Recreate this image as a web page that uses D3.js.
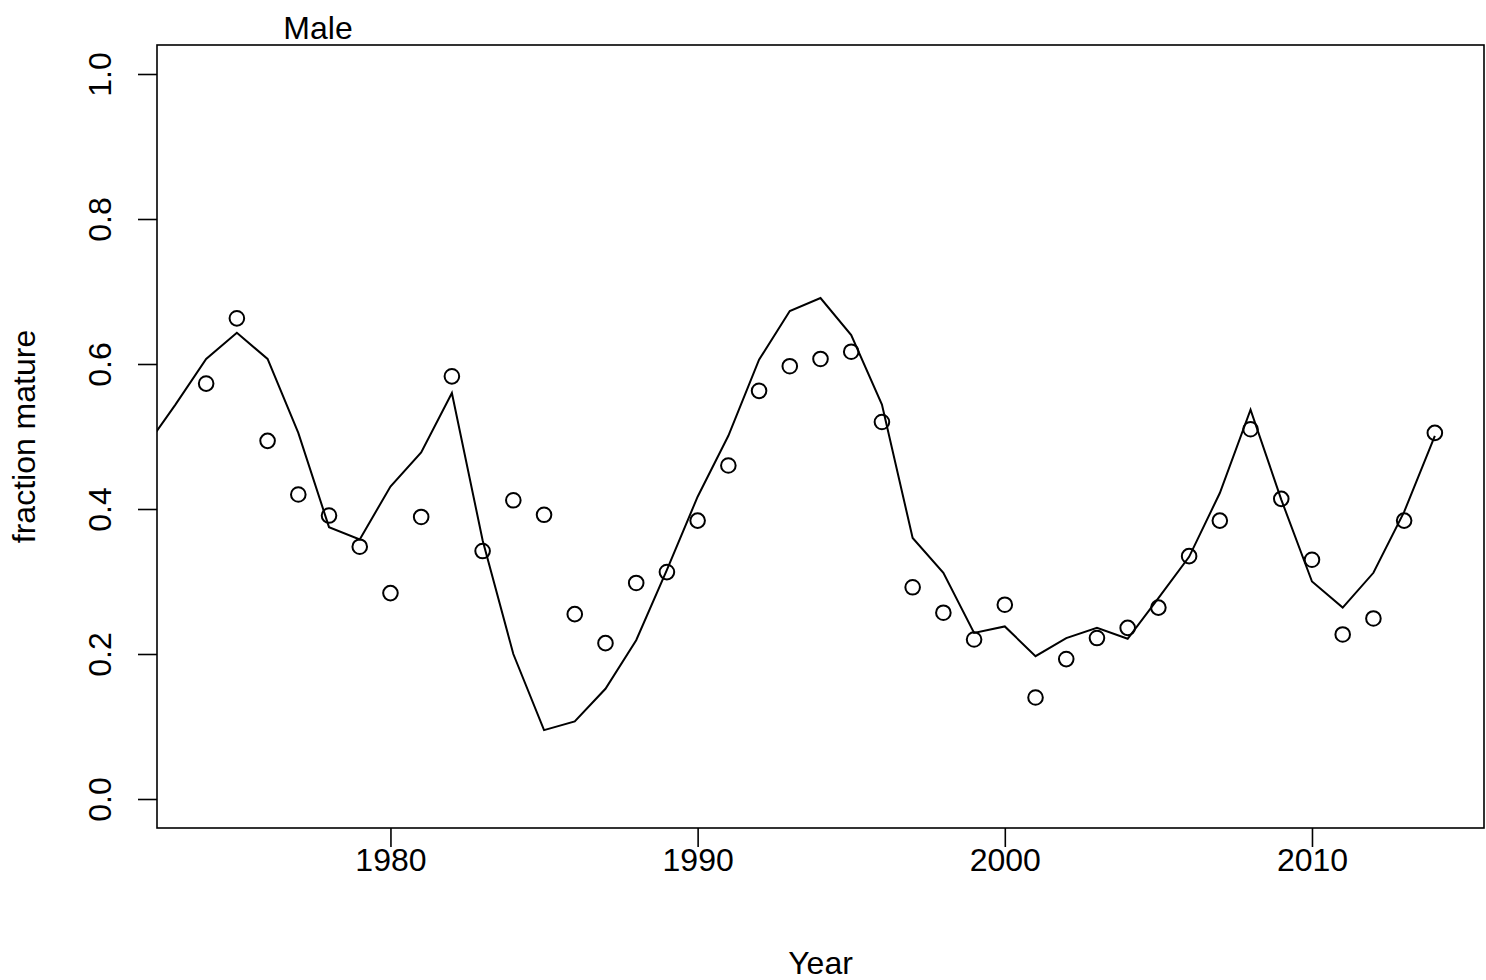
<!DOCTYPE html>
<html>
<head>
<meta charset="utf-8">
<script src="https://cdn.jsdelivr.net/npm/d3@7"></script>
<style>
  html, body { margin: 0; padding: 0; background: #fff; }
  svg text { font-family: "Liberation Sans", Arial, Helvetica, sans-serif; fill: #000; }
</style>
</head>
<body>
<svg id="chart" width="1486" height="980"></svg>
<script>
// Observed fraction mature (points)
const pointYears = [1974,1975,1976,1977,1978,1979,1980,1981,1982,1983,1984,1985,1986,1987,1988,1989,1990,1991,1992,1993,1994,1995,1996,1997,1998,1999,2000,2001,2002,2003,2004,2005,2006,2007,2008,2009,2010,2011,2012,2013,2014];
const pointValues = [0.573,0.663,0.494,0.420,0.391,0.348,0.284,0.389,0.583,0.342,0.412,0.392,0.255,0.215,0.298,0.313,0.384,0.460,0.563,0.597,0.607,0.617,0.520,0.292,0.257,0.220,0.268,0.140,0.193,0.222,0.236,0.264,0.335,0.384,0.510,0.414,0.330,0.227,0.249,0.384,0.505];
// Fitted fraction mature (line)
const lineYears = [1972,1973,1974,1975,1976,1977,1978,1979,1980,1981,1982,1983,1984,1985,1986,1987,1988,1989,1990,1991,1992,1993,1994,1995,1996,1997,1998,1999,2000,2001,2002,2003,2004,2005,2006,2007,2008,2009,2010,2011,2012,2013,2014];
const lineValues = [0.484,0.544,0.607,0.643,0.607,0.505,0.375,0.358,0.431,0.478,0.560,0.357,0.200,0.095,0.107,0.152,0.219,0.316,0.417,0.501,0.606,0.673,0.691,0.640,0.544,0.360,0.312,0.229,0.238,0.197,0.222,0.236,0.221,0.277,0.334,0.422,0.537,0.413,0.300,0.264,0.312,0.396,0.501];
const xTicks = [1980,1990,2000,2010];
const yTicks = [0.0,0.2,0.4,0.6,0.8,1.0];
const yTickLabels = ["0.0","0.2","0.4","0.6","0.8","1.0"];
const panelTitle = "Male";
const xLabel = "Year";
const yLabel = "fraction mature";

const svg = d3.select("#chart");
const box = {left: 157, right: 1484, top: 45, bottom: 828};

// R-style 4% axis extension
const xr = [1974, 2014], yr = [0, 1];
const xpad = (xr[1]-xr[0])*0.04, ypad = (yr[1]-yr[0])*0.04;
const x = d3.scaleLinear().domain([xr[0]-xpad, xr[1]+xpad]).range([box.left, box.right]);
const y = d3.scaleLinear().domain([yr[0]-ypad, yr[1]+ypad]).range([box.bottom, box.top]);

svg.append("defs").append("clipPath").attr("id","plotclip")
  .append("rect").attr("x", box.left).attr("y", box.top)
  .attr("width", box.right-box.left).attr("height", box.bottom-box.top);

// Line
const lineData = lineYears.map((yr_, i) => [yr_, lineValues[i]]);
svg.append("path")
  .datum(lineData)
  .attr("clip-path","url(#plotclip)")
  .attr("fill","none").attr("stroke","#000").attr("stroke-width",2)
  .attr("stroke-linejoin","miter")
  .attr("d", d3.line().x(d => x(d[0])).y(d => y(d[1])));

// Points
svg.append("g").selectAll("circle")
  .data(pointYears.map((yr_, i) => [yr_, pointValues[i]]))
  .join("circle")
  .attr("cx", d => x(d[0])).attr("cy", d => y(d[1]))
  .attr("r", 7.3).attr("fill","none").attr("stroke","#000").attr("stroke-width",2);

// Box
svg.append("rect").attr("x", box.left).attr("y", box.top)
  .attr("width", box.right-box.left).attr("height", box.bottom-box.top)
  .attr("fill","none").attr("stroke","#000").attr("stroke-width",1.6);

const fs = 32;
// X axis
const xAxis = svg.append("g").attr("transform", `translate(0,${box.bottom})`)
  .call(d3.axisBottom(x).tickValues(xTicks).tickFormat(d3.format("d")).tickSize(19).tickPadding(1));
xAxis.select(".domain").remove();
xAxis.selectAll("line").attr("stroke","#000").attr("stroke-width",1.6);
xAxis.selectAll("text").style("font-size", fs+"px").style("font-family","Liberation Sans, Arial, sans-serif");

// Y axis
const yAxis = svg.append("g").attr("transform", `translate(${box.left},0)`)
  .call(d3.axisLeft(y).tickValues(yTicks).tickFormat((d,i) => yTickLabels[i]).tickSize(19));
yAxis.select(".domain").remove();
yAxis.selectAll("line").attr("stroke","#000").attr("stroke-width",1.6);
yAxis.selectAll("text")
  .attr("x", null).attr("dy", null)
  .attr("text-anchor","middle")
  .attr("transform", "translate(-46,0) rotate(-90)")
  .style("font-size", fs+"px").style("font-family","Liberation Sans, Arial, sans-serif");

// Axis titles
svg.append("text").attr("x", (box.left+box.right)/2).attr("y", 974)
  .attr("text-anchor","middle").style("font-size", fs+"px").text(xLabel);
svg.append("text").attr("transform", `translate(35,${(box.top+box.bottom)/2}) rotate(-90)`)
  .attr("text-anchor","middle").style("font-size", fs+"px").text(yLabel);

// Panel title
svg.append("text").attr("x", 318).attr("y", 39)
  .attr("text-anchor","middle").style("font-size", fs+"px").text(panelTitle);
</script>
</body>
</html>
